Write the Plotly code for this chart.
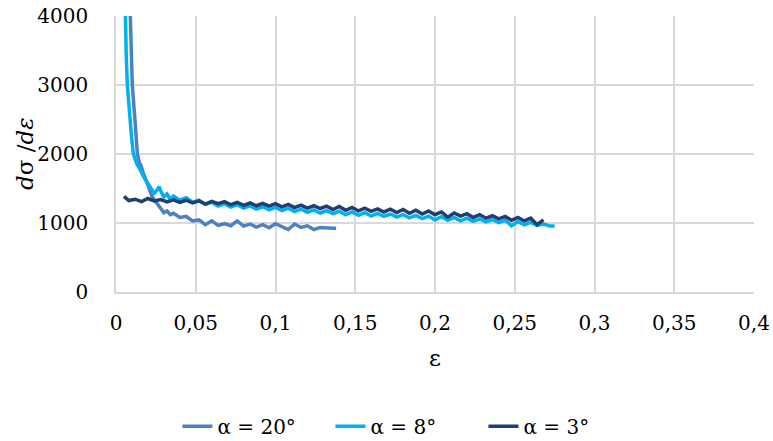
import plotly.graph_objects as go

# ---- data -------------------------------------------------------------
eps_20 = [0.0075, 0.0088, 0.0102, 0.0119, 0.0134, 0.0147, 0.0155, 0.017, 0.019, 0.0205,
          0.0226, 0.0255, 0.0286, 0.030, 0.032, 0.034, 0.036, 0.040, 0.044, 0.048,
          0.052, 0.056, 0.060, 0.064, 0.068, 0.072, 0.076, 0.080, 0.084, 0.088,
          0.092, 0.096, 0.100, 0.104, 0.108, 0.112, 0.116, 0.120, 0.124, 0.128,
          0.132, 0.136, 0.138]
ds_20 = [5200, 4000, 3000, 2490, 2000, 1870, 1840, 1730, 1620, 1520,
         1380, 1290, 1190, 1150, 1175, 1120, 1140, 1080, 1095, 1030,
         1045, 975, 1030, 965, 990, 960, 1030, 955, 985, 940,
         975, 930, 990, 950, 905, 985, 935, 960, 905, 935,
         925, 925, 925]

eps_8 = [0.0048, 0.0056, 0.0064, 0.0071, 0.0080, 0.0088, 0.0098, 0.0109, 0.0120, 0.0130,
         0.0145, 0.016, 0.0175, 0.019, 0.021, 0.0225, 0.024, 0.0255, 0.027, 0.0285,
         0.030, 0.032, 0.034, 0.036, 0.040, 0.044, 0.048, 0.052, 0.056, 0.060,
         0.064, 0.068, 0.072, 0.076, 0.080, 0.084, 0.088, 0.092, 0.096, 0.100,
         0.104, 0.108, 0.112, 0.116, 0.120, 0.124, 0.128, 0.132, 0.136, 0.140,
         0.144, 0.148, 0.152, 0.156, 0.160, 0.164, 0.168, 0.172, 0.176, 0.180,
         0.184, 0.188, 0.192, 0.196, 0.200, 0.204, 0.208, 0.212, 0.216, 0.220,
         0.224, 0.228, 0.232, 0.236, 0.240, 0.244, 0.248, 0.252, 0.256, 0.260,
         0.264, 0.268, 0.272, 0.275]
ds_8 = [5200, 4000, 3450, 3000, 2700, 2490, 2230, 2000, 1900, 1860,
        1800, 1720, 1660, 1610, 1530, 1480, 1430, 1470, 1525, 1440,
        1380, 1420, 1345, 1390, 1330, 1365, 1300, 1330, 1270, 1300,
        1245, 1280, 1230, 1265, 1215, 1250, 1200, 1235, 1190, 1225,
        1180, 1215, 1165, 1200, 1155, 1190, 1145, 1180, 1135, 1170,
        1120, 1160, 1110, 1150, 1100, 1140, 1095, 1130, 1085, 1120,
        1075, 1110, 1065, 1100, 1045, 1090, 1040, 1080, 1030, 1070,
        1025, 1060, 1015, 1050, 1005, 1040, 960, 1020, 975, 1010,
        965, 985, 958, 955]

eps_3 = [0.005, 0.008, 0.012, 0.016, 0.020, 0.024, 0.028, 0.032, 0.036, 0.040,
         0.044, 0.048, 0.052, 0.056, 0.060, 0.064, 0.068, 0.072, 0.076, 0.080,
         0.084, 0.088, 0.092, 0.096, 0.100, 0.104, 0.108, 0.112, 0.116, 0.120,
         0.124, 0.128, 0.132, 0.136, 0.140, 0.144, 0.148, 0.152, 0.156, 0.160,
         0.164, 0.168, 0.172, 0.176, 0.180, 0.184, 0.188, 0.192, 0.196, 0.200,
         0.204, 0.208, 0.212, 0.216, 0.220, 0.224, 0.228, 0.232, 0.236, 0.240,
         0.244, 0.248, 0.252, 0.256, 0.260, 0.264, 0.268]
ds_3 = [1385, 1325, 1345, 1310, 1355, 1320, 1340, 1305, 1335, 1300,
        1330, 1290, 1320, 1275, 1315, 1280, 1310, 1265, 1300, 1255,
        1290, 1250, 1285, 1245, 1280, 1235, 1270, 1225, 1260, 1215,
        1250, 1210, 1245, 1195, 1240, 1185, 1225, 1175, 1215, 1170,
        1205, 1160, 1200, 1150, 1195, 1140, 1185, 1130, 1175, 1120,
        1160, 1085, 1145, 1100, 1135, 1080, 1120, 1070, 1105, 1060,
        1095, 1040, 1080, 1030, 1070, 975, 1045]

series_names = ["α = 20°", "α = 8°", "α = 3°"]
series_colors = ["#4F80C1", "#00B0F0", "#1F3F73"]

x_tickvals = [0, 0.05, 0.1, 0.15, 0.2, 0.25, 0.3, 0.35, 0.4]
x_ticktext = ["0", "0,05", "0,1", "0,15", "0,2", "0,25", "0,3", "0,35", "0,4"]
y_tickvals = [0, 1000, 2000, 3000, 4000]
y_ticktext = ["0", "1000", "2000", "3000", "4000"]

# ---- figure -----------------------------------------------------------
FONT = "DejaVu Serif"
fig = go.Figure()
for xs, ys, name, col in zip([eps_20, eps_8, eps_3], [ds_20, ds_8, ds_3],
                             series_names, series_colors):
    fig.add_trace(go.Scatter(x=xs, y=ys, mode="lines", name=name,
                             line=dict(color=col, width=3.5)))

grid = "#D9D9D9"
fig.update_layout(
    width=773, height=441,
    margin=dict(l=116, r=19, t=16, b=149, autoexpand=False),
    paper_bgcolor="white", plot_bgcolor="white",
    font=dict(family=FONT, size=20, color="#000000"),
    showlegend=True,
    legend=dict(orientation="h", x=0.456, xanchor="center", y=-0.486, yanchor="middle",
                font=dict(family=FONT, size=20), bgcolor="rgba(0,0,0,0)",
                itemclick=False, entrywidth=108, entrywidthmode="pixels"),
    xaxis=dict(range=[0, 0.4], tickvals=x_tickvals, ticktext=x_ticktext,
               showgrid=True, gridcolor=grid, gridwidth=1.5,
               showline=True, linecolor=grid, linewidth=1.5,
               zeroline=False, ticks="", ticklabelstandoff=12,
               tickfont=dict(family=FONT, size=20)),
    yaxis=dict(range=[0, 4000], tickvals=y_tickvals, ticktext=y_ticktext,
               showgrid=True, gridcolor=grid, gridwidth=1.5,
               showline=True, linecolor=grid, linewidth=1.5,
               zeroline=False, ticks="", ticklabelstandoff=22,
               tickfont=dict(family=FONT, size=20)),
    annotations=[
        dict(text="ε", xref="paper", yref="paper", x=0.5, y=(292 - 358) / 276,
             showarrow=False, xanchor="center", yanchor="middle",
             font=dict(family=FONT, size=23)),
        dict(text="<i>d</i>σ /<i>dε</i>", xref="paper", yref="paper",
             x=(25 - 116) / 638, y=0.5, textangle=-90, showarrow=False,
             xanchor="center", yanchor="middle",
             font=dict(family=FONT, size=23)),
    ],
)

fig.write_html("out.html", config={"displayModeBar": False},
               post_script="document.body.style.margin='0';document.body.style.padding='0';")
